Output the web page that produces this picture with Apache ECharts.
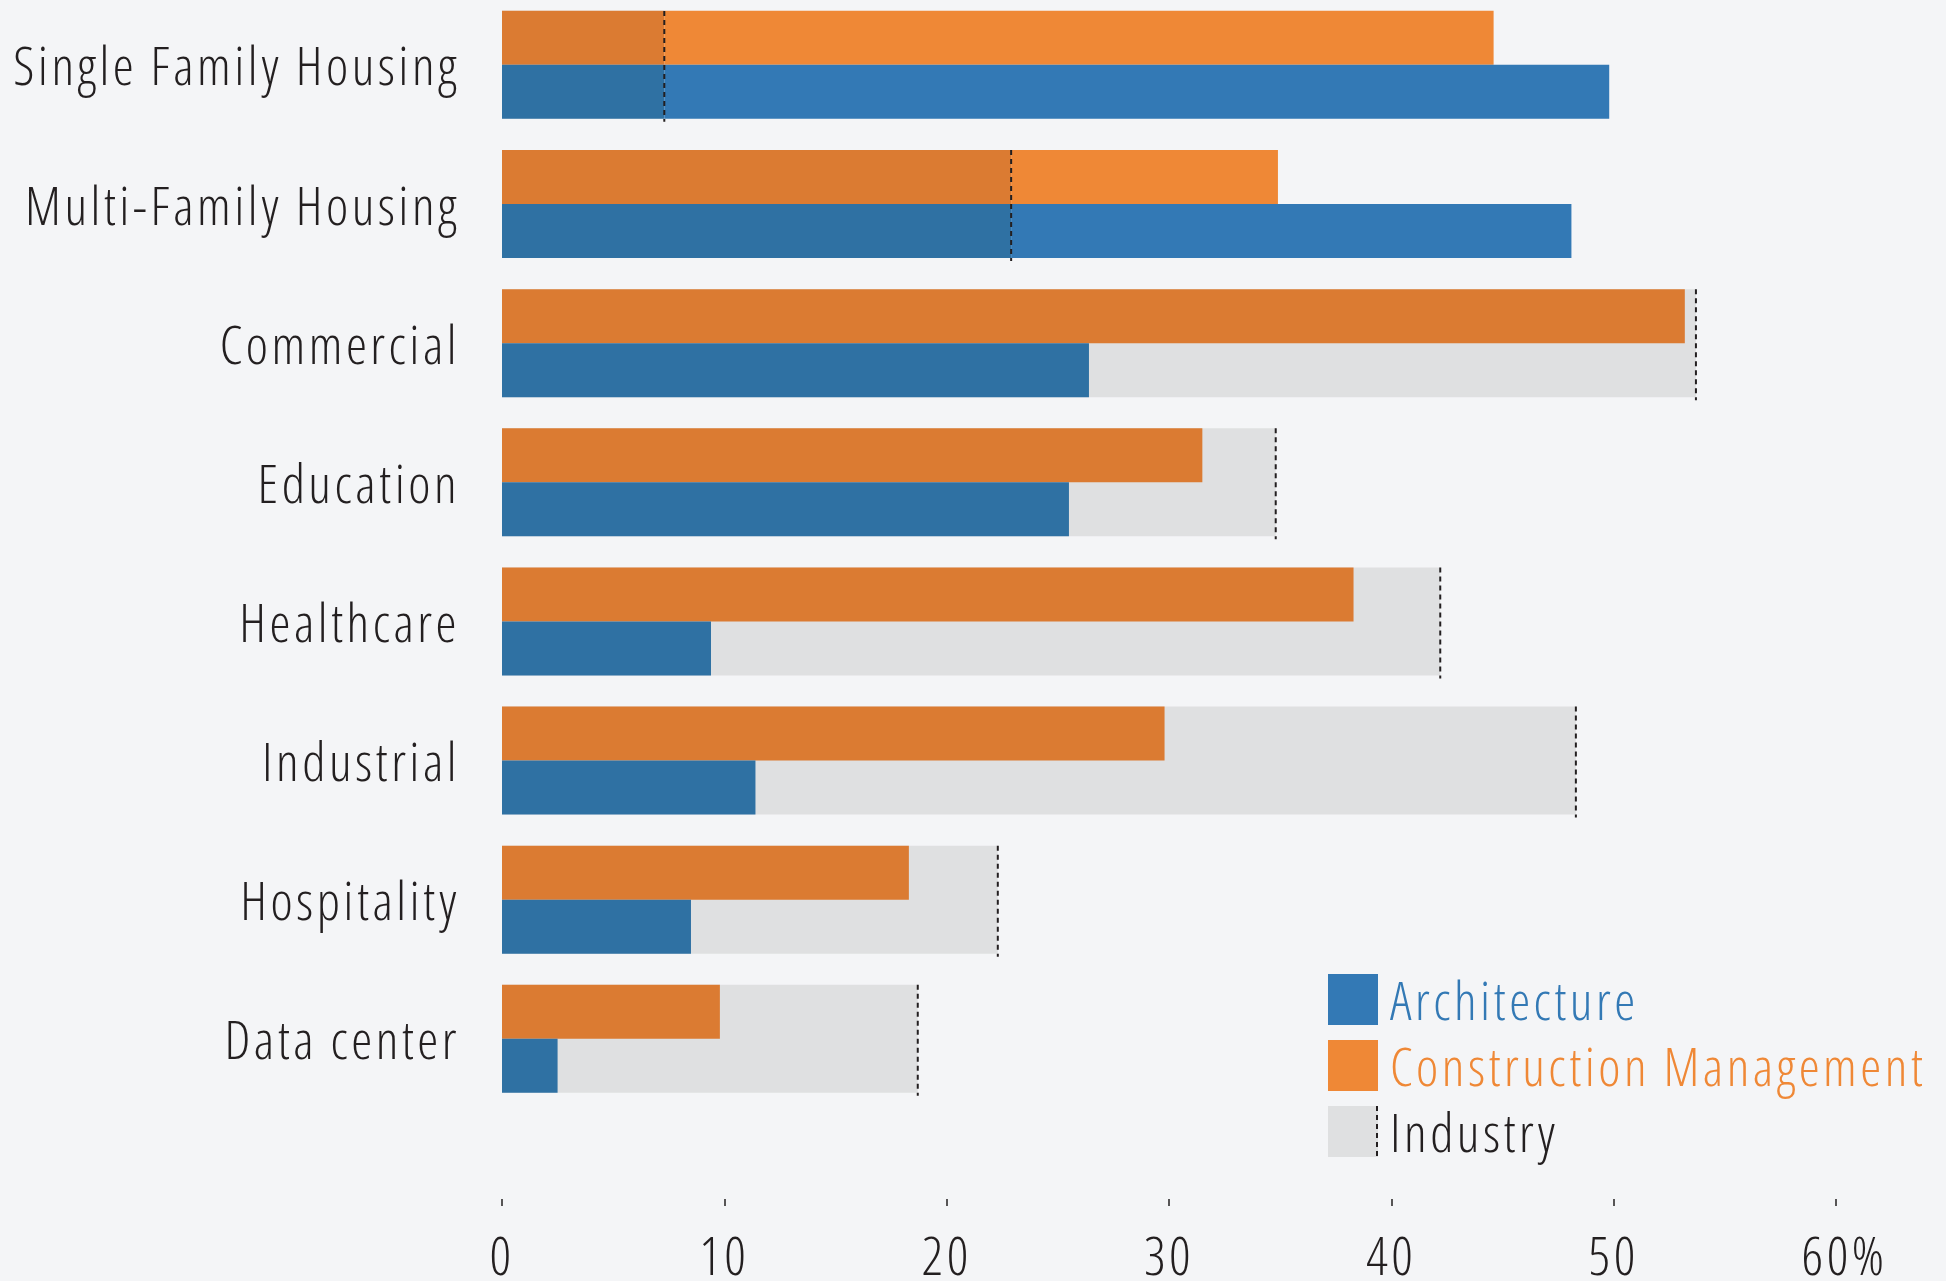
<!DOCTYPE html>
<html>
<head>
<meta charset="utf-8">
<script src="https://cdn.jsdelivr.net/npm/echarts@6/dist/echarts.min.js"></script>
<style>
  html, body { margin: 0; padding: 0; background: #F4F5F7; }
  #container { width: 1946px; height: 1281px; }
  /* the original type is a light condensed face with open tracking */
  #container text { font-stretch: 75% !important; letter-spacing: 3.5px; }
</style>
</head>
<body>
<div id="container"></div>
<script>
    var categories=["Single Family Housing", "Multi-Family Housing", "Commercial", "Education",
        "Healthcare", "Industrial", "Hospitality", "Data center"];
    var architecture=[49.8, 48.1, 26.4, 25.5, 9.4, 11.4, 8.5, 2.5];
    var construction=[44.6, 34.9, 53.2, 31.5, 38.3, 29.8, 18.3, 9.8];
    var industry=[7.3, 22.9, 53.7, 34.8, 42.2, 48.3, 22.3, 18.7];
    var ticks=[0, 10, 20, 30, 40, 50, 60];

    var FONT="'Open Sans'";
    var TEXT='#231F20';
    //shared text settings: Open Sans squeezed to its condensed width, light weight
    var base={fontFamily: FONT, fontStyle: 'condensed', fontWeight: 300, fontSize: 53};

    function txt(extra)
    {
        var o={};
        for(var k in base) o[k]=base[k];
        for(var k in extra) o[k]=extra[k];
        return o;
    }

    //part of each bar that lies inside the industry value is drawn darker
    function inside(vals)
    {
        var out=[];
        for(var i=0;i<vals.length;i++)
            out.push(Math.min(vals[i], industry[i]));
        return out;
    }
    function outside(vals)
    {
        var out=[];
        for(var i=0;i<vals.length;i++)
            out.push(Math.max(0, vals[i]-industry[i]));
        return out;
    }

    var myChart=echarts.init(document.getElementById('container'), null, {renderer: 'svg'});
    myChart.setOption({
        backgroundColor: '#F4F5F7',
        animation: false,
        grid: {left: 502, right: 110, top: -4.7, bottom: 172.6, outerBoundsMode: 'none', containLabel: false},
        xAxis: {
            type: 'value',
            min: ticks[0],
            max: ticks[ticks.length-1],
            interval: 10,
            offset: 90.6,
            splitLine: {show: false},
            axisLine: {show: false},
            axisTick: {show: true, length: 7, lineStyle: {color: TEXT, width: 1.5}},
            axisLabel: txt({
                margin: 29,
                color: TEXT,
                formatter: function(v)
                {
                    //the number stays on its tick, the % sign hangs to the right
                    if(v==ticks[ticks.length-1])
                        return '{m|'+v+'%}';
                    return '{n|'+v+'}';
                },
                rich: {
                    n: txt({color: TEXT}),
                    m: txt({color: TEXT, padding: [0, 0, 0, 17]})
                }
            })
        },
        yAxis: [
            {
                type: 'category',
                data: categories,
                inverse: true,
                axisLine: {show: false},
                axisTick: {show: false},
                axisLabel: txt({margin: 42, color: TEXT})
            },
            {
                type: 'category',
                data: categories,
                inverse: true,
                show: false
            }
        ],
        legend: {
            data: [
                {name: 'Architecture', textStyle: {color: '#3379B5'}},
                {name: 'Construction Management', textStyle: {color: '#EF8836'}},
                {name: 'Industry', textStyle: {color: TEXT}}
            ],
            orient: 'vertical',
            left: 1328,
            top: 973,
            padding: 0,
            icon: 'rect',
            itemWidth: 50,
            itemHeight: 51,
            itemGap: 13,
            selectedMode: false,
            textStyle: txt({lineHeight: 51, padding: [0, 0, 0, 7]})
        },
        graphic: [{
            type: 'line',
            shape: {x1: 1377, y1: 1106, x2: 1377, y2: 1157},
            style: {stroke: TEXT, lineWidth: 2, lineDash: [5, 4]},
            z: 100
        }],
        series: [
            {
                name: 'cmIn', type: 'bar', stack: 'c', yAxisIndex: 0,
                data: inside(construction), barWidth: 54, barGap: '0%',
                itemStyle: {color: '#DB7B32'}, z: 3
            },
            {
                name: 'Construction Management', type: 'bar', stack: 'c', yAxisIndex: 0,
                data: outside(construction), barWidth: 54, barGap: '0%',
                itemStyle: {color: '#EF8836'}, z: 3
            },
            {
                name: 'archIn', type: 'bar', stack: 'a', yAxisIndex: 0,
                data: inside(architecture), barWidth: 54, barGap: '0%',
                itemStyle: {color: '#2F71A3'}, z: 3
            },
            {
                name: 'Architecture', type: 'bar', stack: 'a', yAxisIndex: 0,
                data: outside(architecture), barWidth: 54, barGap: '0%',
                itemStyle: {color: '#3379B5'}, z: 3
            },
            {
                name: 'Industry', type: 'bar', yAxisIndex: 1,
                data: industry, barWidth: 108,
                itemStyle: {color: '#DFE0E1'}, z: 1
            },
            {
                //dotted marker at the end of each industry bar
                name: 'industryEdge', type: 'custom', yAxisIndex: 0,
                data: industry.map(function(v, i){ return [v, i]; }),
                encode: {x: 0, y: 1},
                z: 5,
                renderItem: function(params, api)
                {
                    var p=api.coord([api.value(0), api.value(1)]);
                    var half=api.size([0, 1])[1]*0.388;
                    return {
                        type: 'line',
                        shape: {x1: p[0], y1: p[1]-half, x2: p[0], y2: p[1]+half+3},
                        style: {stroke: TEXT, lineWidth: 2, lineDash: [5, 4]}
                    };
                }
            }
        ]
    });
</script>
</body>
</html>
